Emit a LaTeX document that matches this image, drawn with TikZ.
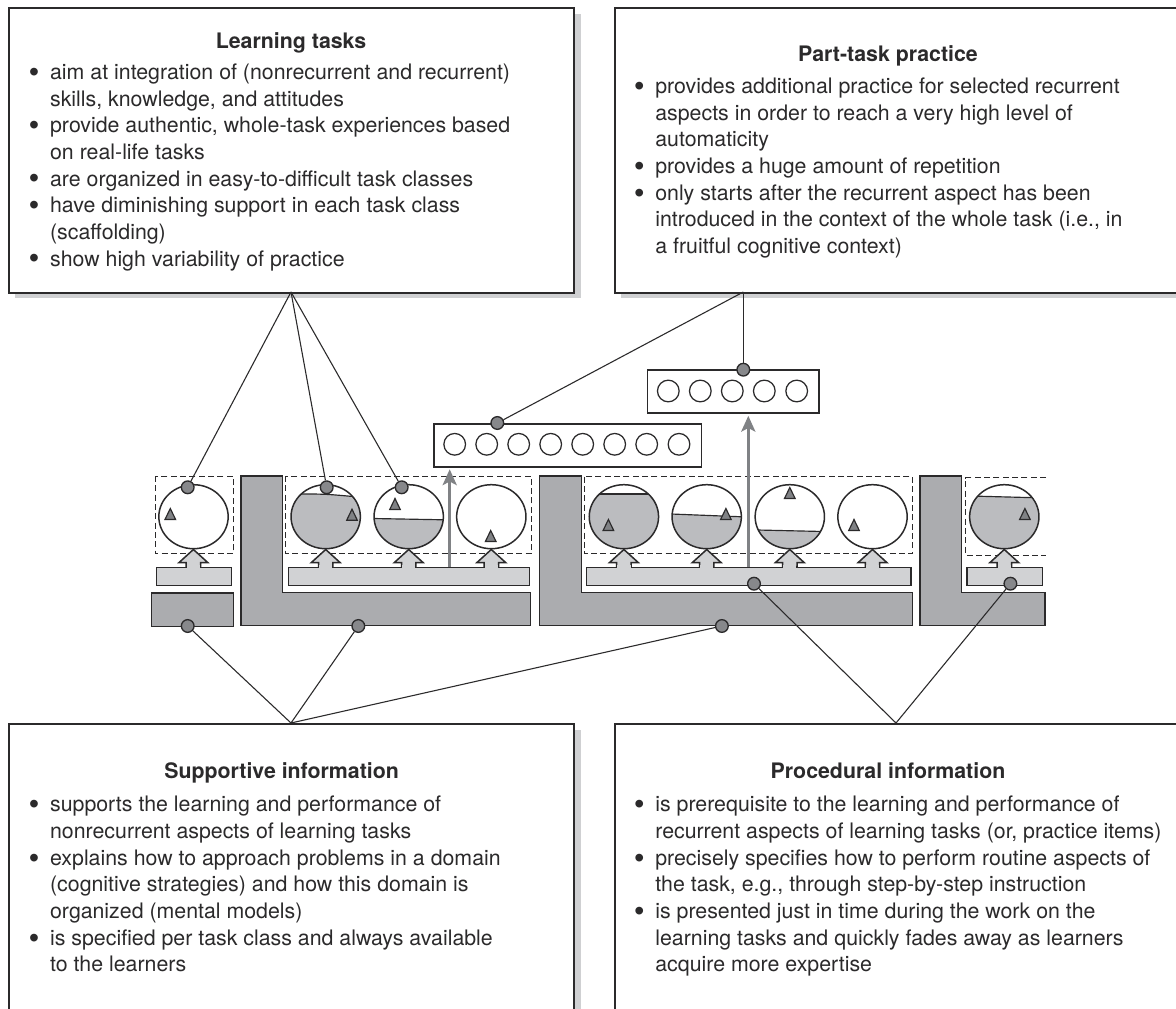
\documentclass[tikz,border=0pt]{standalone}
\usepackage{fontspec}
\setmainfont{TeX Gyre Heros}
\newfontfamily\bulletfont{Liberation Sans}
\usetikzlibrary{shapes.geometric,arrows.meta}
\definecolor{ink}{HTML}{2B2A2B}
\definecolor{shadowgray}{HTML}{CFD0D2}
\definecolor{darkblock}{HTML}{ABACAF}
\definecolor{lightbar}{HTML}{D1D2D4}
\definecolor{watergray}{HTML}{BBBCBF}
\definecolor{dotgray}{HTML}{87888B}
\definecolor{arrowgray}{HTML}{808285}
\tikzset{
  textbox/.style={draw=ink,fill=white,line width=1pt},
  shadowbox/.style={fill=shadowgray},
  block/.style={draw=ink,fill=darkblock,line width=.9pt},
  bar/.style={draw=ink,fill=lightbar,line width=.9pt},
  dashbox/.style={draw=ink,line width=.6pt,dash pattern=on 3.6pt off 2pt},
  ball/.style={ellipse,draw=ink,line width=.9pt,inner sep=0pt,minimum width=41.6pt,minimum height=38.4pt},
  hit/.style={circle,draw=ink,fill=dotgray,line width=.8pt,inner sep=0pt,minimum size=7.6pt},
  conn/.style={draw=ink,line width=.65pt},
  small/.style={circle,draw=ink,line width=.75pt,inner sep=0pt,minimum size=13pt},
  seq/.style={draw=ink,fill=white,line width=1pt},
  mark tri/.style={draw=ink,fill=arrowgray,line width=.7pt},
  grayarrow/.style={draw=arrowgray,line width=1.5pt,-{Stealth[length=9.5pt,width=8.5pt,inset=2.2pt]},shorten >=1pt},
  title/.style={font=\fontsize{12.8}{16}\selectfont\bfseries,text=ink,anchor=base,inner sep=0pt},
  body/.style={font=\fontsize{12.8}{16}\selectfont,text=ink,align=left,anchor=north west,inner sep=0pt},
}
\newcommand{\itm}{\llap{\raisebox{-1.1pt}{\bulletfont\fontsize{17}{16}\selectfont\textbullet}\hspace{6.6pt}}}
% up-pointing hollow arrow rising from a bar: centre x, tip y, bar top y
\newcommand{\uparr}[3]{%
  \filldraw[bar] (#1,#2) -- (#1+14.3,#2+13) -- (#1+7.2,#2+13) -- (#1+7.2,#3) -- (#1-7.2,#3) -- (#1-7.2,#2+13) -- (#1-14.3,#2+13) -- cycle;
  \fill[lightbar] (#1-6.6,#3-1.5) rectangle (#1+6.6,#3+1.5);}
% water surface in a ball: centre x, x1,y1, xm,ym, x2,y2
\newcommand{\water}[7]{%
  \begin{scope}
    \clip (#1,516.7) ellipse [x radius=34.6,y radius=32];
    \fill[watergray] (#1-40,#3) -- (#2,#3) .. controls (#4,#5) .. (#6,#7) -- (#1+40,#7) -- (#1+40,560) -- (#1-40,560) -- cycle;
    \draw[ink,line width=.7pt] (#2,#3) .. controls (#4,#5) .. (#6,#7);
  \end{scope}}
\newcommand{\tri}[2]{\filldraw[mark tri] (#1,#2-5.5) -- (#1+5.3,#2+5.5) -- (#1-5.3,#2+5.5) -- cycle;}
\begin{document}
\begin{tikzpicture}[x=0.6pt,y=-0.6pt]
\useasboundingbox (0,0) rectangle (1176,1009);
\clip (0,0) rectangle (1176,1009);
\fill[white] (0,0) rectangle (1176,1009);
% shadows and text boxes
\fill[shadowbox] (15,14) rectangle (580.5,298.5);
\fill[shadowbox] (621,14) rectangle (1190,298.5);
\fill[shadowbox] (15,730) rectangle (580.5,1020);
\fill[shadowbox] (621,730) rectangle (1190,1020);
\node[textbox,anchor=north west,inner sep=0pt,minimum width=339pt,minimum height=171pt] (lt) at (8,7) {};
\node[textbox,anchor=north west,inner sep=0pt,minimum width=345pt,minimum height=171pt] (pt) at (614.2,7) {};
\node[textbox,anchor=north west,inner sep=0pt,minimum width=339pt,minimum height=190pt] (si) at (8,723) {};
\node[textbox,anchor=north west,inner sep=0pt,minimum width=345pt,minimum height=190pt] (pi) at (614.2,723) {};
% texts
\node[title] (ltt) at (291,48.5) {Learning tasks};
\node[body] (ltb) at (49.8,63.5) {\itm aim at integration of (nonrecurrent and recurrent)\\skills, knowledge, and attitudes\\\itm provide authentic, whole-task experiences based\\on real-life tasks\\\itm are organized in easy-to-difficult task classes\\\itm have diminishing support in each task class\\(scaffolding)\\\itm show high variability of practice};
\node[title] (ptt) at (888,62) {Part-task practice};
\node[body] (ptb) at (655,77.7) {\itm provides additional practice for selected recurrent\\aspects in order to reach a very high level of\\automaticity\\\itm provides a huge amount of repetition\\\itm only starts after the recurrent aspect has been\\introduced in the context of the whole task (i.e., in\\a fruitful cognitive context)};
\node[title] (sit) at (281.6,778.5) {Supportive information};
\node[body] (sib) at (49.8,796) {\itm supports the learning and performance of\\nonrecurrent aspects of learning tasks\\\itm explains how to approach problems in a domain\\(cognitive strategies) and how this domain is\\organized (mental models)\\\itm is specified per task class and always available\\to the learners};
\node[title] (pit) at (888,778.5) {Procedural information};
\node[body] (pib) at (655,796) {\itm is prerequisite to the learning and performance of\\recurrent aspects of learning tasks (or, practice items)\\\itm precisely specifies how to perform routine aspects of\\the task, e.g., through step-by-step instruction\\\itm is presented just in time during the work on the\\learning tasks and quickly fades away as learners\\acquire more expertise};
% supportive blocks
\node[block,anchor=north west,inner sep=0pt,minimum width=49.3pt,minimum height=20pt] (sup1) at (150.7,592.3) {};
\filldraw[block] (241,476) -- (282.7,476) -- (282.7,592.3) -- (530.7,592.3) -- (530.7,625.7) -- (241,625.7) -- cycle;
\filldraw[block] (539.5,476) -- (581.3,476) -- (581.3,592.3) -- (912.4,592.3) -- (912.4,625.7) -- (539.5,625.7) -- cycle;
\filldraw[block] (920.2,476) -- (961.7,476) -- (961.7,592.3) -- (1044.8,592.3) -- (1044.8,625.7) -- (920.2,625.7) -- cycle;
% dashed task classes
\draw[dashbox] (155,476) rectangle (233,553.5);
\draw[dashbox] (285.7,476) rectangle (531.3,553.5);
\draw[dashbox] (584,476.5) rectangle (912.4,553.5);
\draw[dashbox] (1046,477.5) -- (965.8,477.5) -- (965.8,555) -- (1046,555);
% procedural bars
\node[bar,anchor=north west,inner sep=0pt,minimum width=45pt,minimum height=10.8pt] (b1) at (155.7,566.7) {};
\node[bar,anchor=north west,inner sep=0pt,minimum width=144.6pt,minimum height=10.8pt] (b2) at (287.7,566.7) {};
\node[bar,anchor=north west,inner sep=0pt,minimum width=194.6pt,minimum height=10.8pt] (b3) at (585.7,566.7) {};
\node[bar,anchor=north west,inner sep=0pt,minimum width=45.2pt,minimum height=10.8pt] (b4) at (966.4,566.7) {};
% learning tasks: water, outline, marks
\water{325.7}{296}{494}{325}{494}{353}{496.5}
\water{408.7}{373}{518.5}{408}{519.5}{444}{519.8}
\water{623.9}{598}{494}{624}{493.5}{650}{494}
\water{706.7}{671}{514}{706}{516}{742}{516.8}
\water{789.8}{757}{530}{790}{530}{823}{531.5}
\water{1004.3}{970}{496}{1004}{497}{1038}{497.8}
\node[ball] (c1) at (193.5,516.7) {};
\node[ball] (c2) at (325.7,516.7) {};
\node[ball] (c3) at (408.7,516.7) {};
\node[ball] (c4) at (491.3,516.7) {};
\node[ball] (c5) at (623.9,516.7) {};
\node[ball] (c6) at (706.7,516.7) {};
\node[ball] (c7) at (789.8,516.7) {};
\node[ball] (c8) at (872.5,516.7) {};
\node[ball] (c9) at (1004.3,516.7) {};
\tri{170.3}{514}
\tri{352}{514.7}
\tri{395}{504}
\tri{490.7}{536}
\tri{608.4}{525}
\tri{725.9}{514}
\tri{789.8}{493}
\tri{854}{525}
\tri{1024.9}{514}
% hollow arrows
\uparr{193.4}{549.5}{566.7}
\uparr{325.7}{549.5}{566.7}
\uparr{408.7}{549.5}{566.7}
\uparr{491.3}{549.5}{566.7}
\uparr{623.9}{549.5}{566.7}
\uparr{706.7}{549.5}{566.7}
\uparr{789.8}{549.5}{566.7}
\uparr{872.5}{549.5}{566.7}
\uparr{1004.3}{549.5}{566.7}
% part-task practice sequences
\node[seq,anchor=north west,inner sep=0pt,minimum width=160.4pt,minimum height=25.8pt] (s8) at (433.3,423) {};
\node[seq,anchor=north west,inner sep=0pt,minimum width=103pt,minimum height=25.8pt] (s5) at (646.7,369.5) {};
\foreach \nm/\xx in {p1/454.7,p2/486.7,p3/518.7,p4/550.7,p5/582.7,p6/614.7,p7/646.7,p8/679}
  \node[small] (\nm) at (\xx,444.3) {};
\foreach \nm/\xx in {q1/668.3,q2/700.3,q3/732.3,q4/764.3,q5/796.7}
  \node[small] (\nm) at (\xx,391) {};
% gray arrows
\coordinate (g1) at (449.7,567);
\coordinate (g2) at (748.3,567);
\draw[grayarrow] (g1) -- (g1 |- s8.south);
\draw[grayarrow] (g2) -- (g2 |- s5.south);
% apexes and hit dots
\coordinate (a1) at (291,292);
\coordinate (a2) at (743.3,292);
\coordinate (a3) at (291,723);
\coordinate (a4) at (896,723);
\node[hit] (d1) at (187.7,487.3) {};
\node[hit] (d2) at (326.7,487.3) {};
\node[hit] (d3) at (401.7,487.3) {};
\node[hit] (d4) at (497.3,423) {};
\node[hit] (d5) at (743.3,369.7) {};
\node[hit] (d6) at (187.7,626) {};
\node[hit] (d7) at (358.3,626) {};
\node[hit] (d8) at (721.9,626) {};
\node[hit] (d9) at (754,583.7) {};
\node[hit] (d10) at (1010.4,583.7) {};
\draw[conn] (a1) -- (d1);
\draw[conn] (a1) -- (d2);
\draw[conn] (a1) -- (d3);
\draw[conn] (a2) -- (d4);
\draw[conn] (a2) -- (d5);
\draw[conn] (a3) -- (d6);
\draw[conn] (a3) -- (d7);
\draw[conn] (a3) -- (d8);
\draw[conn] (a4) -- (d9);
\draw[conn] (a4) -- (d10);
\end{tikzpicture}
\end{document}
